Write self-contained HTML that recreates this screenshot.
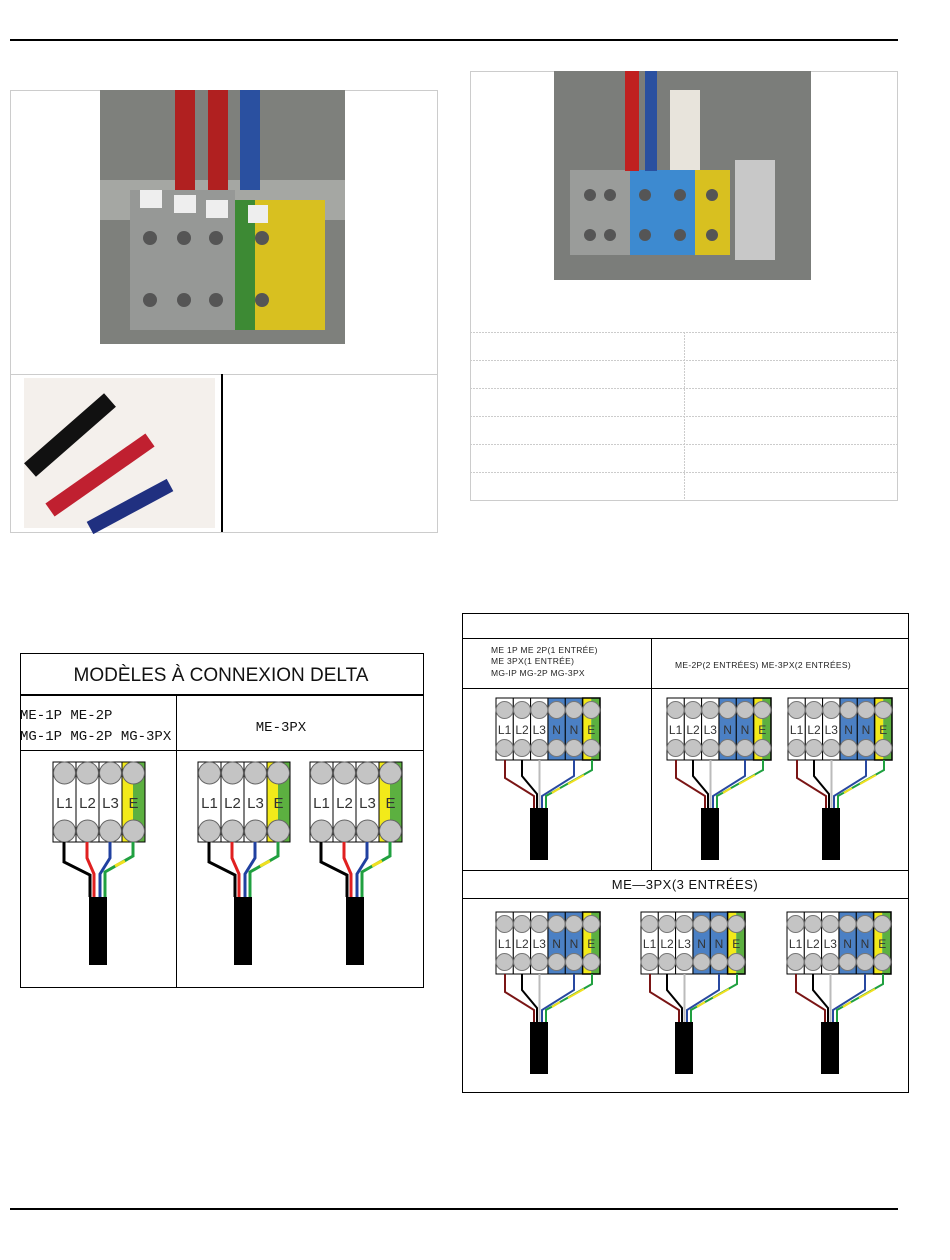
<!DOCTYPE html>
<html><head><meta charset="utf-8"><style>
html,body{margin:0;padding:0;background:#fff;}
svg{display:block;font-family:"Liberation Sans",sans-serif;}
</style></head><body>
<svg width="950" height="1260" viewBox="0 0 950 1260" xmlns="http://www.w3.org/2000/svg">
<defs>
<g id="delta">
 <rect x="0" y="0" width="23" height="80" fill="#fff" stroke="#000"/>
 <rect x="23" y="0" width="23" height="80" fill="#fff" stroke="#000"/>
 <rect x="46" y="0" width="23" height="80" fill="#fff" stroke="#000"/>
 <rect x="69" y="0" width="11" height="80" fill="#f2ea1a"/>
 <rect x="80" y="0" width="12" height="80" fill="#5cb040"/>
 <rect x="69" y="0" width="23" height="80" fill="none" stroke="#000"/>
 <g fill="#c4c4c4" stroke="#666">
 <circle cx="11.5" cy="11" r="11"/><circle cx="34.5" cy="11" r="11"/><circle cx="57.5" cy="11" r="11"/><circle cx="80.5" cy="11" r="11"/>
 <circle cx="11.5" cy="69" r="11"/><circle cx="34.5" cy="69" r="11"/><circle cx="57.5" cy="69" r="11"/><circle cx="80.5" cy="69" r="11"/>
 </g>
 <g font-size="15" fill="#333" text-anchor="middle"><text x="11.5" y="46">L1</text><text x="34.5" y="46">L2</text><text x="57.5" y="46">L3</text><text x="80.5" y="46">E</text></g>
 <g fill="none" stroke-width="3">
 <path d="M11,80 V100 L37,113 V135" stroke="#000"/>
 <path d="M34,80 V96 L41,112 V135" stroke="#e02020"/>
 <path d="M57,80 V96 L47,112 V135" stroke="#2040a0"/>
 <path d="M80,80 V94 L52,110 V135" stroke="#20a040"/>
 <path d="M72,99 L62,104" stroke="#f0e020"/>
 </g>
 <rect x="36" y="135" width="18" height="68" fill="#000"/>
</g>
<g id="star">
 <rect x="0" y="0" width="17.3" height="62" fill="#fff" stroke="#000"/>
 <rect x="17.3" y="0" width="17.3" height="62" fill="#fff" stroke="#000"/>
 <rect x="34.6" y="0" width="17.3" height="62" fill="#fff" stroke="#000"/>
 <rect x="52" y="0" width="17.3" height="62" fill="#4b80c4" stroke="#000"/>
 <rect x="69.3" y="0" width="17.3" height="62" fill="#4b80c4" stroke="#000"/>
 <rect x="86.6" y="0" width="8.6" height="62" fill="#f2ea1a"/>
 <rect x="95.2" y="0" width="8.8" height="62" fill="#5cb040"/>
 <rect x="86.6" y="0" width="17.4" height="62" fill="none" stroke="#000" stroke-width="1.5"/>
 <g fill="#c4c4c4" stroke="#777">
 <circle cx="8.6" cy="12" r="8.5"/><circle cx="26" cy="12" r="8.5"/><circle cx="43.3" cy="12" r="8.5"/><circle cx="60.6" cy="12" r="8.5"/><circle cx="78" cy="12" r="8.5"/><circle cx="95.3" cy="12" r="8.5"/>
 <circle cx="8.6" cy="50" r="8.5"/><circle cx="26" cy="50" r="8.5"/><circle cx="43.3" cy="50" r="8.5"/><circle cx="60.6" cy="50" r="8.5"/><circle cx="78" cy="50" r="8.5"/><circle cx="95.3" cy="50" r="8.5"/>
 </g>
 <g font-size="12" fill="#333" text-anchor="middle"><text x="8.6" y="36">L1</text><text x="26" y="36">L2</text><text x="43.3" y="36">L3</text><text x="60.6" y="36">N</text><text x="78" y="36">N</text><text x="95.3" y="36">E</text></g>
 <g fill="none" stroke-width="2">
 <path d="M9,62 V80 L38,98 V110" stroke="#7a1515"/>
 <path d="M26,62 V78 L41,96 V110" stroke="#000"/>
 <path d="M43.5,62 V110" stroke="#bbb"/>
 <path d="M78,62 V78 L46,98 V110" stroke="#2848a0"/>
 <path d="M96,62 V72 L50,98 V110" stroke="#20a040"/>
 <path d="M88,77 L72,86 M64,90 L56,95" stroke="#f0e020"/>
 </g>
 <rect x="34" y="110" width="18" height="52" fill="#000"/>
</g>
</defs>

<line x1="10" y1="40" x2="898" y2="40" stroke="#000" stroke-width="2"/>
<line x1="10" y1="1209" x2="898" y2="1209" stroke="#000" stroke-width="2"/>

<!-- left photo box -->
<rect x="10.5" y="90.5" width="427" height="442" fill="none" stroke="#ccc"/>
<line x1="10" y1="374.5" x2="437" y2="374.5" stroke="#ccc"/>
<line x1="222" y1="374" x2="222" y2="532" stroke="#000" stroke-width="2"/>
<rect x="100" y="90" width="245" height="254" fill="#7e807c"/>
<rect x="100" y="180" width="245" height="40" fill="#a5a7a3"/>
<rect x="130" y="190" width="105" height="140" fill="#969896"/>
<rect x="235" y="200" width="20" height="130" fill="#3d8a34"/>
<rect x="255" y="200" width="70" height="130" fill="#d8c020"/>
<rect x="175" y="90" width="20" height="100" fill="#b02020"/>
<rect x="208" y="90" width="20" height="100" fill="#b02020"/>
<rect x="240" y="90" width="20" height="100" fill="#2a50a0"/>
<g fill="#eee"><rect x="140" y="190" width="22" height="18"/><rect x="174" y="195" width="22" height="18"/><rect x="206" y="200" width="22" height="18"/><rect x="248" y="205" width="20" height="18"/></g>
<g fill="#555"><circle cx="150" cy="238" r="7"/><circle cx="184" cy="238" r="7"/><circle cx="216" cy="238" r="7"/><circle cx="262" cy="238" r="7"/><circle cx="150" cy="300" r="7"/><circle cx="184" cy="300" r="7"/><circle cx="216" cy="300" r="7"/><circle cx="262" cy="300" r="7"/></g>
<rect x="24" y="378" width="191" height="150" fill="#f4f0ec"/>
<path d="M30,470 L110,400" stroke="#111" stroke-width="18"/>
<path d="M50,510 L150,440" stroke="#c02030" stroke-width="16"/>
<path d="M90,528 L170,485" stroke="#203080" stroke-width="14"/>

<!-- right photo box -->
<rect x="470.5" y="71.5" width="427" height="429" fill="none" stroke="#ccc"/>
<rect x="554" y="71" width="257" height="209" fill="#7b7d7a"/>
<rect x="570" y="170" width="60" height="85" fill="#9a9c9a"/>
<rect x="630" y="170" width="65" height="85" fill="#3d8ad0"/>
<rect x="695" y="170" width="35" height="85" fill="#d8c020"/>
<rect x="735" y="160" width="40" height="100" fill="#c8c8c8"/>
<rect x="625" y="71" width="14" height="100" fill="#c02020"/>
<rect x="645" y="71" width="12" height="100" fill="#2a50a0"/>
<rect x="670" y="90" width="30" height="80" fill="#e8e4dc"/>
<g fill="#555"><circle cx="590" cy="195" r="6"/><circle cx="610" cy="195" r="6"/><circle cx="645" cy="195" r="6"/><circle cx="680" cy="195" r="6"/><circle cx="712" cy="195" r="6"/><circle cx="590" cy="235" r="6"/><circle cx="610" cy="235" r="6"/><circle cx="645" cy="235" r="6"/><circle cx="680" cy="235" r="6"/><circle cx="712" cy="235" r="6"/></g>
<g stroke="#ccc" stroke-dasharray="2,1">
<line x1="470" y1="332.5" x2="897" y2="332.5"/><line x1="470" y1="360.5" x2="897" y2="360.5"/><line x1="470" y1="388.5" x2="897" y2="388.5"/><line x1="470" y1="416.5" x2="897" y2="416.5"/><line x1="470" y1="444.5" x2="897" y2="444.5"/><line x1="470" y1="472.5" x2="897" y2="472.5"/>
<line x1="684.5" y1="332" x2="684.5" y2="500"/>
</g>

<!-- delta table -->
<rect x="20.5" y="653.5" width="403" height="334" fill="none" stroke="#000"/>
<line x1="20" y1="695" x2="424" y2="695" stroke="#000" stroke-width="2"/>
<line x1="20" y1="750.5" x2="424" y2="750.5" stroke="#000"/>
<line x1="176.5" y1="695" x2="176.5" y2="987" stroke="#000"/>
<text x="221" y="681" font-size="19" text-anchor="middle" fill="#111">MODÈLES À CONNEXION DELTA</text>
<g font-family="Liberation Mono, monospace" font-size="14" fill="#111">
<text x="20" y="719">ME-1P ME-2P</text>
<text x="20" y="740">MG-1P MG-2P MG-3PX</text>
<text x="281" y="731" text-anchor="middle">ME-3PX</text>
</g>
<use href="#delta" x="53" y="762"/>
<use href="#delta" x="198" y="762"/>
<use href="#delta" x="310" y="762"/>

<!-- star table -->
<rect x="462.5" y="613.5" width="446" height="479" fill="none" stroke="#000"/>
<line x1="462" y1="638.5" x2="909" y2="638.5" stroke="#000"/>
<line x1="462" y1="688.5" x2="909" y2="688.5" stroke="#000"/>
<line x1="651.5" y1="638" x2="651.5" y2="870" stroke="#000"/>
<line x1="462" y1="870.5" x2="909" y2="870.5" stroke="#000"/>
<line x1="462" y1="898.5" x2="909" y2="898.5" stroke="#000"/>
<g font-size="8.5" fill="#222" letter-spacing="0.3">
<text x="491" y="653">ME 1P ME 2P(1 ENTRÉE)</text>
<text x="491" y="664">ME 3PX(1 ENTRÉE)</text>
<text x="491" y="676">MG-IP MG-2P MG-3PX</text>
<text x="675" y="668">ME-2P(2 ENTRÉES) ME-3PX(2 ENTRÉES)</text>
</g>
<text x="685" y="889" font-size="13" text-anchor="middle" fill="#111" letter-spacing="0.5">ME—3PX(3 ENTRÉES)</text>
<use href="#star" x="496" y="698"/>
<use href="#star" x="667" y="698"/>
<use href="#star" x="788" y="698"/>
<use href="#star" x="496" y="912"/>
<use href="#star" x="641" y="912"/>
<use href="#star" x="787" y="912"/>
</svg>
</body></html>
